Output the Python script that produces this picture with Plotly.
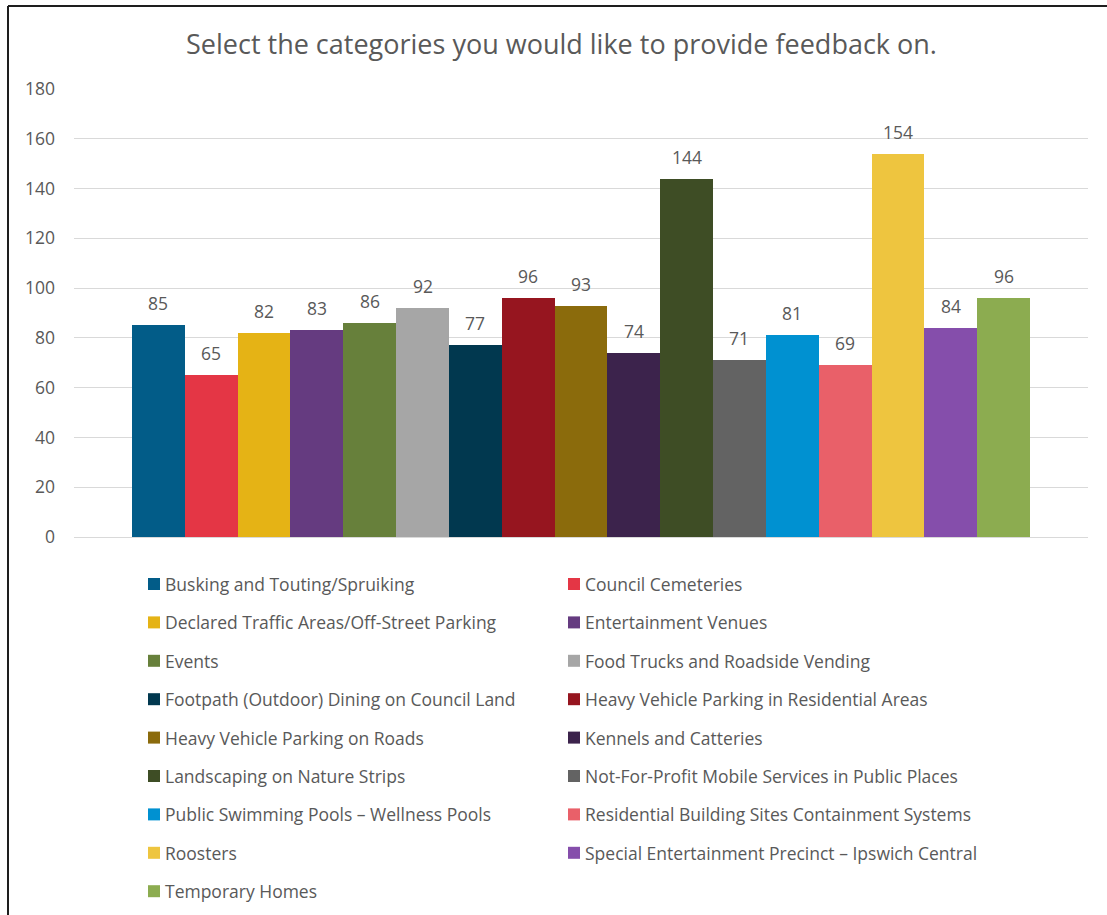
import plotly.graph_objects as go

# Survey responses per feedback category
categories = [
    "Busking and Touting/Spruiking",
    "Council Cemeteries",
    "Declared Traffic Areas/Off-Street Parking",
    "Entertainment Venues",
    "Events",
    "Food Trucks and Roadside Vending",
    "Footpath (Outdoor) Dining on Council Land",
    "Heavy Vehicle Parking in Residential Areas",
    "Heavy Vehicle Parking on Roads",
    "Kennels and Catteries",
    "Landscaping on Nature Strips",
    "Not-For-Profit Mobile Services in Public Places",
    "Public Swimming Pools \u2013 Wellness Pools",
    "Residential Building Sites Containment Systems",
    "Roosters",
    "Special Entertainment Precinct \u2013 Ipswich Central",
    "Temporary Homes",
]
responses = [85, 65, 82, 83, 86, 92, 77, 96, 93, 74, 144, 71, 81, 69, 154, 84, 96]
colors = [
    "#025C88", "#E43645", "#E5B315", "#653B80", "#67803B", "#A6A6A6",
    "#01384F", "#96151F", "#8B6B0C", "#3C234C", "#3E4D25", "#636363",
    "#0091D1", "#E96069", "#EEC53F", "#854EAB", "#8CAC50",
]
y_ticks = [0, 20, 40, 60, 80, 100, 120, 140, 160, 180]

W, H = 1107, 915
M_L, M_R, M_T, M_B = 74, 19, 89, 378
PW, PH = W - M_L - M_R, H - M_T - M_B

TEXT = "#595959"
FONT = "Open Sans"
FS = 17.5


def px_x(px):
    return (px - M_L) / PW


def px_y(py):
    return (H - M_B - py) / PH


fig = go.Figure()
fig.add_trace(go.Bar(
    x=categories,
    y=responses,
    marker=dict(color=colors, line=dict(width=0)),
    showlegend=False,
    hoverinfo="x+y",
))

# value labels above each bar
for cat, val in zip(categories, responses):
    fig.add_annotation(
        x=cat, y=val, xref="x", yref="y",
        text=str(val), showarrow=False,
        yanchor="middle", yshift=22,
        font=dict(family=FONT, size=FS, color=TEXT),
    )

# two-column legend below the plot
row_top, row_step = 584, 38.4
col_x = [148, 568]
for i, (cat, col) in enumerate(zip(categories, colors)):
    r, c = divmod(i, 2)
    cy = row_top + r * row_step
    x0 = col_x[c]
    fig.add_shape(
        type="rect", xref="paper", yref="paper",
        x0=px_x(x0), x1=px_x(x0 + 12),
        y0=px_y(cy + 6), y1=px_y(cy - 6),
        fillcolor=col, line=dict(width=0),
    )
    fig.add_annotation(
        x=px_x(x0 + 15), y=px_y(cy), xref="paper", yref="paper",
        text=cat, showarrow=False, xanchor="left", yanchor="middle",
        font=dict(family=FONT, size=FS, color=TEXT),
    )

# title
fig.add_annotation(
    x=px_x(561), y=px_y(43), xref="paper", yref="paper",
    text="Select the categories you would like to provide feedback on.",
    showarrow=False, xanchor="center", yanchor="middle",
    font=dict(family=FONT, size=27, color=TEXT),
)

# chart frame (top and left edges)
frame = dict(color="#1E1E1E", width=2)
fig.add_shape(type="line", xref="paper", yref="paper",
              x0=px_x(8), x1=px_x(W + 5), y0=px_y(6), y1=px_y(6), line=frame)
fig.add_shape(type="line", xref="paper", yref="paper",
              x0=px_x(8), x1=px_x(8), y0=px_y(6), y1=px_y(H + 5), line=frame)

n = len(categories)
pad = 58 / ((1031 - 132) / n)
fig.update_layout(
    width=W, height=H,
    margin=dict(l=M_L, r=M_R, t=M_T, b=M_B, pad=0),
    paper_bgcolor="white", plot_bgcolor="white",
    bargap=0,
    font=dict(family=FONT, color=TEXT),
    xaxis=dict(
        type="category", showticklabels=False, showgrid=False,
        zeroline=False, showline=False, ticks="",
        range=[-0.5 - pad, n - 0.5 + pad], fixedrange=True,
    ),
    yaxis=dict(
        range=[0, 180], tickvals=y_ticks, ticktext=[str(v) for v in y_ticks],
        showgrid=True, gridcolor="#D9D9D9", gridwidth=1.3,
        zeroline=True, zerolinecolor="#D9D9D9", zerolinewidth=1.3,
        showline=False, ticks="", ticklabelstandoff=18,
        tickfont=dict(family=FONT, size=FS, color=TEXT),
        fixedrange=True,
    ),
)

fig.write_html("out.html")
